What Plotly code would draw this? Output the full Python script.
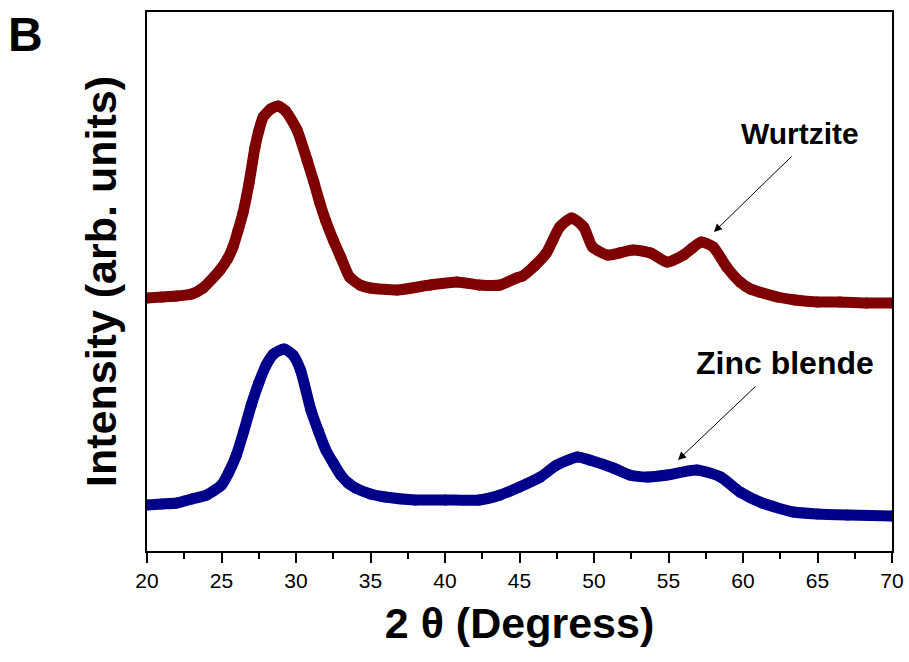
import plotly.graph_objects as go

# Wurtzite pattern (2θ in degrees, intensity in arb. units)
wz_x = [20, 21, 22, 23, 23.76, 24.9, 25.4, 25.77, 26.1, 26.44, 26.85, 27.25, 27.5, 27.8, 28.3, 28.8, 29.3, 30.07, 30.74, 31.2, 31.6, 32.0, 32.5, 33.0, 33.6, 34.3, 35.0, 36.8, 39.0, 40.8, 42.3, 43.7, 44.8, 45.2, 46.0, 46.8, 47.7, 48.5, 49.3, 49.9, 50.9, 51.7, 52.6, 53.8, 54.9, 56.0, 56.6, 57.2, 58.0, 58.9, 59.8, 60.5, 61.1, 62.3, 63.5, 65.0, 66.5, 68.3, 70]
wz_y = [253, 254, 255, 257, 263, 281, 292, 304, 320, 338, 368, 404, 420, 434, 442, 445, 440, 421, 391, 369, 348, 330, 311, 294, 274, 266, 263, 261, 266, 269, 266, 266, 273, 275, 285, 298, 324, 333, 324, 304, 296, 298, 301, 298, 289, 296, 303, 309, 304, 284, 269, 262, 259, 254, 251, 249, 249, 248, 248]

# Zinc blende pattern
zb_x = [20, 21, 22, 23, 24, 25, 25.5, 26, 26.5, 27, 27.5, 28, 28.5, 29.2, 29.8, 30.3, 31, 31.5, 32, 32.5, 33, 33.5, 34, 35, 36, 38, 40, 42.3, 43.7, 45.0, 46.4, 47.5, 48.9, 49.7, 51.3, 52.4, 53.6, 54.9, 56.9, 58.5, 59.8, 61.3, 63.4, 65, 67, 70]
zb_y = [46, 47, 48, 52, 56, 66, 79, 96, 120, 146, 168, 186, 197, 202, 196, 181, 141, 120, 101, 88, 76, 68, 63, 57, 54, 51, 51, 51, 56, 64, 74, 86, 94, 91, 83, 76, 74, 76, 81, 74, 59, 48, 39, 37, 36, 35]

x_ticks = [20, 25, 30, 35, 40, 45, 50, 55, 60, 65, 70]

font_family = "Arial, Liberation Sans, sans-serif"

fig = go.Figure()
fig.add_trace(go.Scatter(x=wz_x, y=wz_y, mode="lines+markers", name="Wurtzite",
                         line=dict(color="#7f0000", width=11, shape="spline", smoothing=0.6),
                         marker=dict(color="#7f0000", size=11)))
fig.add_trace(go.Scatter(x=zb_x, y=zb_y, mode="lines+markers", name="Zinc blende",
                         line=dict(color="#00008b", width=11, shape="spline", smoothing=0.6),
                         marker=dict(color="#00008b", size=11)))

fig.update_layout(
    width=909, height=662,
    margin=dict(l=147, r=17, t=12, b=111, autoexpand=False),
    plot_bgcolor="white", paper_bgcolor="white",
    showlegend=False,
    font=dict(family=font_family, color="black"),
    xaxis=dict(range=[20, 70], tickvals=x_ticks, ticktext=[str(v) for v in x_ticks],
               ticks="outside", ticklen=10, tickwidth=2, tickcolor="black",
               minor=dict(dtick=2.5, tick0=20, ticks="outside", ticklen=6, tickwidth=2, tickcolor="black"),
               showline=True, linewidth=2, linecolor="black", mirror=True,
               showgrid=False, zeroline=False, automargin=False,
               tickfont=dict(size=21, family=font_family),
               title=dict(text="<b>2 θ (Degress)</b>", font=dict(size=43, family=font_family), standoff=17)),
    yaxis=dict(range=[0, 539], showticklabels=False, ticks="",
               showline=True, linewidth=2, linecolor="black", mirror=True,
               showgrid=False, zeroline=False, automargin=False,
               title=dict(text="<b>Intensity (arb. units)</b>", font=dict(size=43, family=font_family), standoff=15)),
)

fig.add_annotation(x=58.05, y=319, ax=63.36, ay=396, xref="x", yref="y", axref="x", ayref="y",
                   text="", showarrow=True, arrowhead=2, arrowsize=1.6, arrowwidth=1, arrowcolor="black")
fig.add_annotation(x=55.64, y=91, ax=60.94, ay=166, xref="x", yref="y", axref="x", ayref="y",
                   text="", showarrow=True, arrowhead=2, arrowsize=1.6, arrowwidth=1, arrowcolor="black")
fig.add_annotation(x=63.83, y=418, xref="x", yref="y", text="<b>Wurtzite</b>", showarrow=False,
                   font=dict(size=30, family=font_family, color="black"))
fig.add_annotation(x=62.8, y=188, xref="x", yref="y", text="<b>Zinc blende</b>", showarrow=False,
                   font=dict(size=32, family=font_family, color="black"))
fig.add_annotation(x=(25 - 147) / 745, y=(551 - 35) / 539, xref="paper", yref="paper",
                   xanchor="center", yanchor="middle",
                   text="<b>B</b>", showarrow=False,
                   font=dict(size=48, family=font_family, color="black"))

fig.write_html("out.html")
